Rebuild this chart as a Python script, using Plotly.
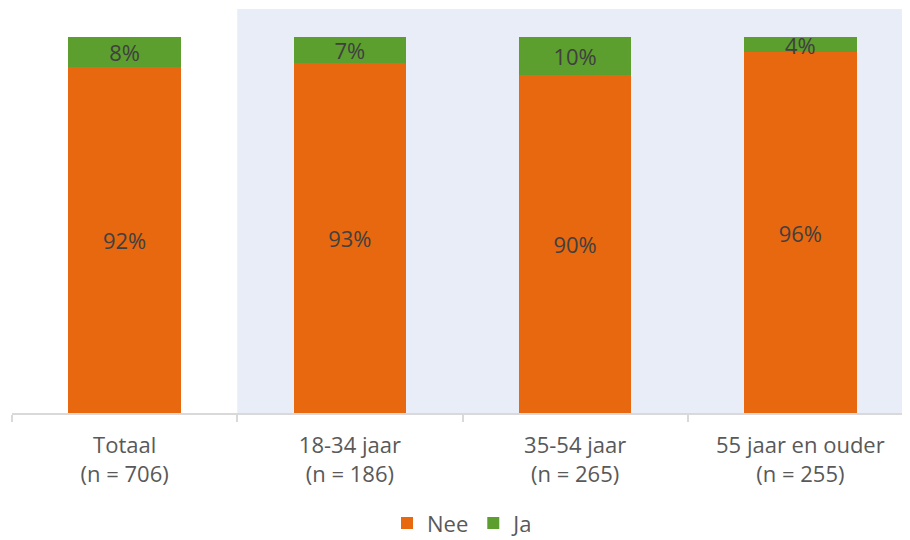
import plotly.graph_objects as go

categories = ["Totaal<br>(n = 706)", "18-34 jaar<br>(n = 186)",
              "35-54 jaar<br>(n = 265)", "55 jaar en ouder<br>(n = 255)"]
nee = [92, 93, 90, 96]
ja = [8, 7, 10, 4]

ORANGE = "#E8680F"
GREEN = "#5C9F2E"
TEXT = "#404040"
FONT = "Open Sans"

fig = go.Figure()
fig.add_trace(go.Bar(
    x=categories, y=nee, name="Nee",
    marker=dict(color=ORANGE, line=dict(width=0)),
    text=[f"{v}%" for v in nee], textposition="inside",
    insidetextanchor="middle", constraintext="none",
    textfont=dict(color=TEXT, size=22, family=FONT),
))
fig.add_trace(go.Bar(
    x=categories, y=ja, name="Ja",
    marker=dict(color=GREEN, line=dict(width=0)),
    text=[f"{v}%" for v in ja], textposition="inside",
    insidetextanchor="middle", constraintext="none",
    textfont=dict(color=TEXT, size=22, family=FONT),
))

# shaded band behind the age groups
fig.add_shape(type="rect", xref="x", yref="paper", x0=0.5, x1=3.5, y0=0, y1=1,
              fillcolor="#E9EDF8", line=dict(width=0), layer="below")

# page body adds an 8px offset, so margins are compensated
fig.update_layout(
    width=910, height=540,
    barmode="stack", bargap=0.5,
    plot_bgcolor="white", paper_bgcolor="white",
    margin=dict(l=4, r=5, t=1, b=135, autoexpand=False),
    font=dict(family=FONT, color="#595959", size=22),
    uniformtext=dict(minsize=20, mode="show"),
    showlegend=True,
    legend=dict(orientation="h", x=0.5, xanchor="center", xref="container",
                y=0.046, yanchor="middle", yref="container",
                font=dict(size=22, color="#595959"), traceorder="normal",
                itemwidth=30),
    xaxis=dict(type="category", range=[-0.5, 3.5], showline=True,
               linecolor="#D9D9D9", linewidth=2,
               ticks="outside", tickson="boundaries", ticklen=7, tickcolor="#D9D9D9",
               tickwidth=2, tickfont=dict(size=22, color="#595959"), showgrid=False,
               automargin=False, ticklabelstandoff=12),
    yaxis=dict(range=[0, 107.45], visible=False, showgrid=False, automargin=False),
)

fig.write_html("out.html")
